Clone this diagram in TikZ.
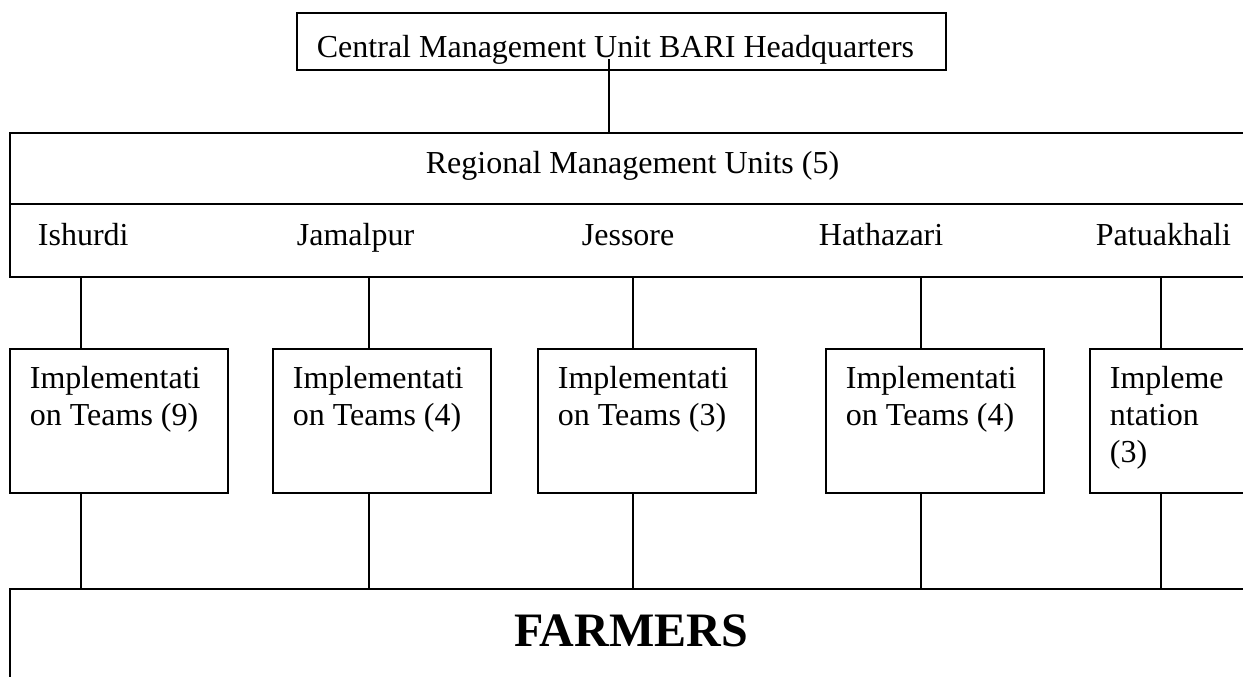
\documentclass[tikz,border=0pt]{standalone}
\usepackage{fontspec}
\setmainfont{Liberation Serif}
\usepackage{tikz}
\begin{document}
\begin{tikzpicture}[x=0.5pt,y=-0.5pt,line width=0.9pt,
	font=\fontsize{16pt}{18.4pt}\selectfont,
	unitbox/.style={draw,anchor=north west,inner sep=0pt},
	lbl/.style={anchor=base west,inner sep=0pt},
	teambox/.style={draw,anchor=north west,align=flush left,text width=89pt,inner xsep=10pt,inner ysep=0pt,text height=20pt,text depth=52pt}]
	\useasboundingbox (0,0) rectangle (1243,676);
	\clip (0,0) rectangle (1243,676);
	\node[unitbox,align=flush left,text width=304.5pt,inner xsep=10pt,text height=22.5pt,text depth=6pt] (cmu) at (296,12) {Central Management Unit BARI Headquarters};
	\node[unitbox,minimum width=630pt,minimum height=35.5pt] (rmu) at (9,132) {};
	\node[unitbox,minimum width=630pt,minimum height=36.5pt] (rmurow) at (9,203) {};
	\node[lbl] (rmutitle) at (425,173) {Regional Management Units (5)};
	\node[lbl] (ishurdi) at (37,245) {Ishurdi};
	\node[lbl] (jamalpur) at (296,245) {Jamalpur};
	\node[lbl] (jessore) at (581,245) {Jessore};
	\node[lbl] (hathazari) at (818,245) {Hathazari};
	\node[lbl] (patuakhali) at (1095,245) {Patuakhali};
	\node[teambox] (it1) at (9,348) {Implementati\\on Teams (9)};
	\node[teambox] (it2) at (272,348) {Implementati\\on Teams (4)};
	\node[teambox] (it3) at (537,348) {Implementati\\on Teams (3)};
	\node[teambox] (it4) at (825,348) {Implementati\\on Teams (4)};
	\node[teambox] (it5) at (1089,348) {Impleme\\ntation\\(3)};
	\node[unitbox,minimum width=630pt,minimum height=60pt] (farm) at (9,588) {};
	\node[anchor=base,inner sep=0pt,font=\fontsize{24pt}{28pt}\selectfont\bfseries] (farmers) at (631,646) {FARMERS};
	\coordinate (cmuline) at (609,59);
	\coordinate (r1) at (81,276);
	\coordinate (r2) at (369,276);
	\coordinate (r3) at (633,276);
	\coordinate (r4) at (921,276);
	\coordinate (r5) at (1161,276);
	\draw (cmuline) -- (cmuline |- rmu.north);
	\draw (r1) -- (r1 |- it1.north);
	\draw (r2) -- (r2 |- it2.north);
	\draw (r3) -- (r3 |- it3.north);
	\draw (r4) -- (r4 |- it4.north);
	\draw (r5) -- (r5 |- it5.north);
	\draw (r1 |- it1.south) -- (r1 |- farm.north);
	\draw (r2 |- it2.south) -- (r2 |- farm.north);
	\draw (r3 |- it3.south) -- (r3 |- farm.north);
	\draw (r4 |- it4.south) -- (r4 |- farm.north);
	\draw (r5 |- it5.south) -- (r5 |- farm.north);
\end{tikzpicture}
\end{document}
